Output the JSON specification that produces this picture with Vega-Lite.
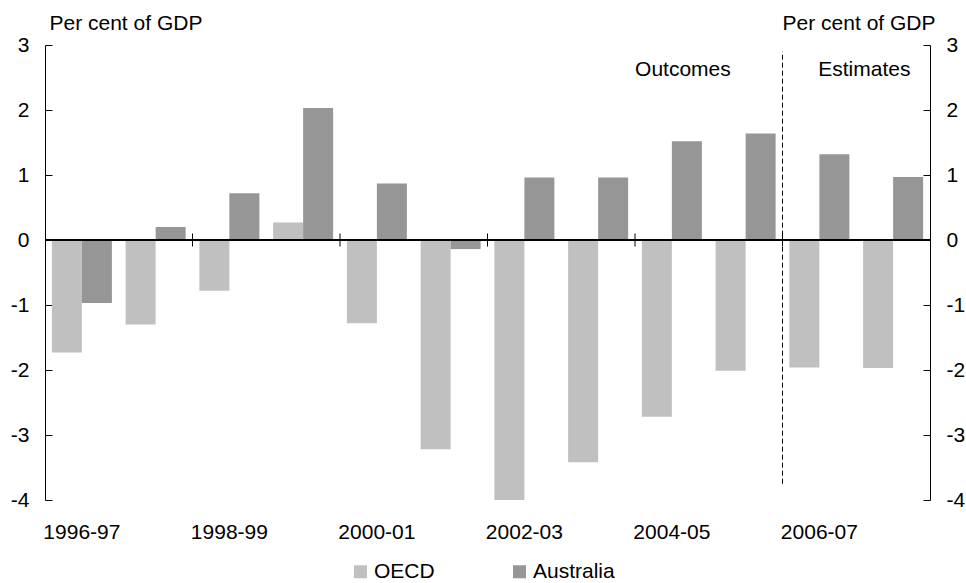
{
  "$schema": "https://vega.github.io/schema/vega-lite/v6.json",
  "width": 885,
  "height": 455,
  "autosize": "none",
  "padding": {"left": 45, "top": 45, "right": 36, "bottom": 83},
  "config": {
    "font": "Liberation Sans",
    "view": {"stroke": null},
    "axis": {"labelFont": "Liberation Sans", "titleFont": "Liberation Sans", "labelColor": "#000", "titleColor": "#000", "grid": false},
    "legend": {"labelFont": "Liberation Sans"}
  },
  "datasets": {
    "bars": [
      {"year": "1996-97", "series": "OECD", "value": -1.73},
      {"year": "1996-97", "series": "Australia", "value": -0.97},
      {"year": "1997-98", "series": "OECD", "value": -1.30},
      {"year": "1997-98", "series": "Australia", "value": 0.20},
      {"year": "1998-99", "series": "OECD", "value": -0.78},
      {"year": "1998-99", "series": "Australia", "value": 0.72},
      {"year": "1999-00", "series": "OECD", "value": 0.27},
      {"year": "1999-00", "series": "Australia", "value": 2.03},
      {"year": "2000-01", "series": "OECD", "value": -1.28},
      {"year": "2000-01", "series": "Australia", "value": 0.87},
      {"year": "2001-02", "series": "OECD", "value": -3.22},
      {"year": "2001-02", "series": "Australia", "value": -0.14},
      {"year": "2002-03", "series": "OECD", "value": -4.0},
      {"year": "2002-03", "series": "Australia", "value": 0.96},
      {"year": "2003-04", "series": "OECD", "value": -3.42},
      {"year": "2003-04", "series": "Australia", "value": 0.96},
      {"year": "2004-05", "series": "OECD", "value": -2.72},
      {"year": "2004-05", "series": "Australia", "value": 1.52},
      {"year": "2005-06", "series": "OECD", "value": -2.01},
      {"year": "2005-06", "series": "Australia", "value": 1.64},
      {"year": "2006-07", "series": "OECD", "value": -1.96},
      {"year": "2006-07", "series": "Australia", "value": 1.32},
      {"year": "2007-08", "series": "OECD", "value": -1.97},
      {"year": "2007-08", "series": "Australia", "value": 0.97}
    ],
    "ticks": [
      {"year": "1998-99"},
      {"year": "2000-01"},
      {"year": "2002-03"},
      {"year": "2004-05"},
      {"year": "2006-07"}
    ],
    "divider": [{"year": "2006-07"}],
    "outcomes": [{"year": "2004-05", "label": "Outcomes"}],
    "estimates": [{"year": "2007-08", "label": "Estimates"}]
  },
  "layer": [
    {
      "data": {"name": "bars"},
      "mark": {"type": "bar"},
      "encoding": {
        "x": {
          "field": "year", "type": "nominal",
          "scale": {
            "domain": ["1996-97","1997-98","1998-99","1999-00","2000-01","2001-02","2002-03","2003-04","2004-05","2005-06","2006-07","2007-08"],
            "paddingInner": 0, "paddingOuter": 0
          },
          "axis": {
            "orient": "bottom",
            "values": ["1996-97","1998-99","2000-01","2002-03","2004-05","2006-07"],
            "domain": false, "ticks": false, "labelAngle": 0,
            "labelFontSize": 21, "labelPadding": 21, "title": null
          }
        },
        "xOffset": {
          "field": "series", "type": "nominal",
          "scale": {"domain": ["OECD", "Australia"], "paddingInner": 0, "paddingOuter": 0.229}
        },
        "y": {
          "field": "value", "type": "quantitative",
          "scale": {"domain": [-4, 3], "nice": false, "zero": false},
          "axis": {
            "orient": "left", "values": [-4,-3,-2,-1,0,1,2,3],
            "labelExpr": "datum.value < 0 ? '-' + abs(datum.value) : '' + datum.value",
            "tickSize": -7, "tickColor": "#000", "domainColor": "#000",
            "labelFontSize": 21, "labelPadding": 23,
            "title": "Per cent of GDP", "titleAngle": 0, "titleX": 4, "titleY": -16,
            "titleAlign": "left", "titleBaseline": "alphabetic",
            "titleFontSize": 21, "titleFontWeight": "normal"
          }
        },
        "color": {
          "field": "series", "type": "nominal",
          "scale": {"domain": ["OECD", "Australia"], "range": ["#C0C0C0", "#969696"]},
          "legend": {
            "orient": "none", "direction": "horizontal", "legendX": 305, "legendY": 516,
            "title": null, "symbolType": "square", "symbolSize": 169, "symbolStrokeWidth": 0,
            "labelFontSize": 21, "labelOffset": 3, "columnPadding": 74, "padding": 0
          }
        }
      }
    },
    {
      "data": {"name": "bars"},
      "mark": {"type": "rule", "color": "#000", "strokeWidth": 1},
      "encoding": {
        "y": {
          "datum": 0, "type": "quantitative",
          "axis": {
            "orient": "right", "values": [-4,-3,-2,-1,0,1,2,3],
            "labelExpr": "datum.value < 0 ? '-' + abs(datum.value) : '' + datum.value",
            "tickSize": -7, "tickColor": "#000", "domainColor": "#000",
            "labelFontSize": 21, "labelPadding": 23,
            "title": "Per cent of GDP", "titleAngle": 0, "titleX": 5, "titleY": -16,
            "titleAlign": "right", "titleBaseline": "alphabetic",
            "titleFontSize": 21, "titleFontWeight": "normal"
          }
        }
      }
    },
    {
      "data": {"name": "ticks"},
      "mark": {"type": "rule", "color": "#000", "strokeWidth": 1},
      "encoding": {
        "x": {"field": "year", "type": "nominal", "bandPosition": 0, "title": null},
        "y": {"datum": -0.1, "type": "quantitative", "axis": null},
        "y2": {"datum": 0.1}
      }
    },
    {
      "data": {"name": "divider"},
      "mark": {"type": "rule", "color": "#000", "strokeWidth": 1, "strokeDash": [5, 3]},
      "encoding": {
        "x": {"field": "year", "type": "nominal", "bandPosition": 0, "title": null},
        "y": {"datum": -3.75, "type": "quantitative", "axis": null},
        "y2": {"datum": 2.9}
      }
    },
    {
      "data": {"name": "outcomes"},
      "mark": {"type": "text", "fontSize": 21, "color": "#000", "align": "center", "baseline": "middle"},
      "encoding": {
        "x": {"field": "year", "type": "nominal", "bandPosition": 0.65, "title": null},
        "y": {"datum": 2.62, "type": "quantitative", "axis": null},
        "text": {"field": "label"}
      }
    },
    {
      "data": {"name": "estimates"},
      "mark": {"type": "text", "fontSize": 21, "color": "#000", "align": "center", "baseline": "middle"},
      "encoding": {
        "x": {"field": "year", "type": "nominal", "bandPosition": 0.11, "title": null},
        "y": {"datum": 2.62, "type": "quantitative", "axis": null},
        "text": {"field": "label"}
      }
    }
  ],
  "resolve": {"axis": {"y": "independent"}}
}
